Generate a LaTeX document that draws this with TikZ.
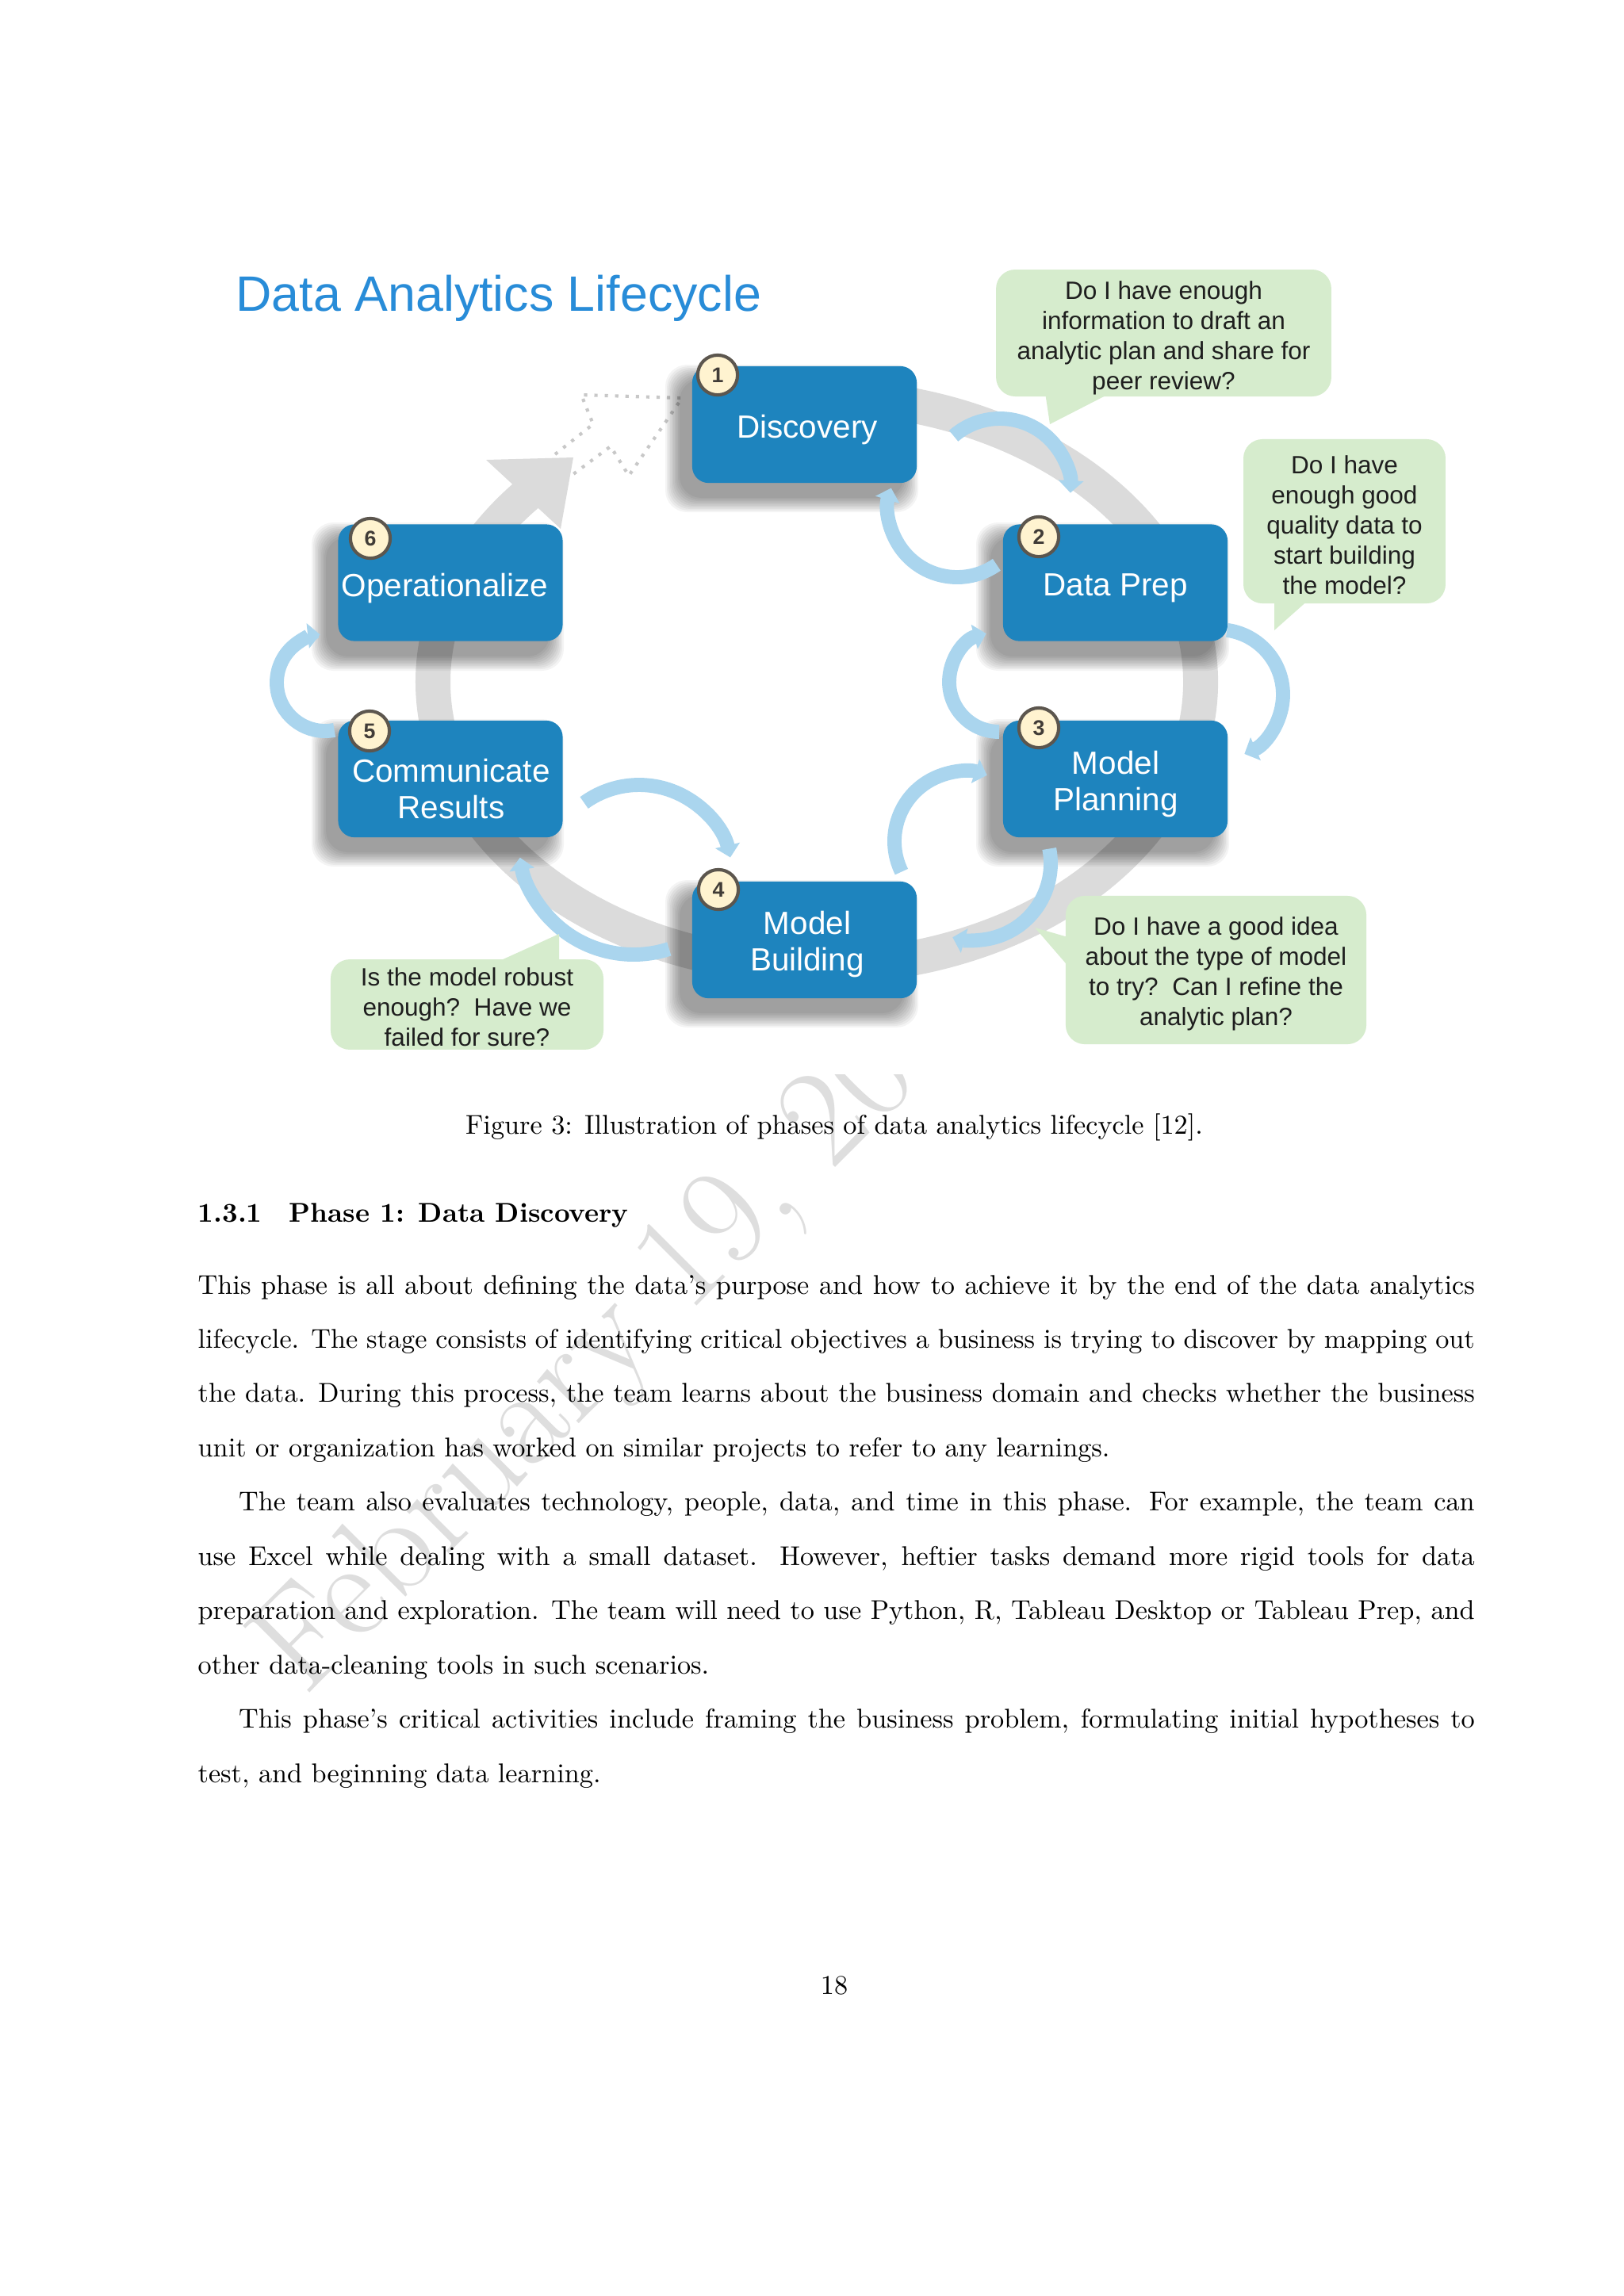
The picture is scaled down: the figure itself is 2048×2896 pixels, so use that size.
\documentclass[tikz,border=0pt]{standalone}
\usepackage{fontspec}
\newfontfamily\arialfont{Liberation Sans}
\usetikzlibrary{arrows.meta}
\definecolor{boxblue}{RGB}{30,132,190}
\definecolor{titleblue}{RGB}{40,140,216}
\definecolor{ringgray}{RGB}{219,219,219}
\definecolor{dotgray}{RGB}{200,200,200}
\definecolor{arcblue}{RGB}{170,213,238}
\definecolor{callgreen}{RGB}{214,236,205}
\definecolor{badgefill}{RGB}{255,243,208}
\definecolor{badgedraw}{RGB}{92,86,78}
\definecolor{calltext}{RGB}{30,30,30}
\definecolor{wmgray}{RGB}{222,222,222}
\newcommand\softshadow[4]{%
  \foreach \k in {0,...,9}{%
    \fill[black, opacity=0.045, rounded corners=8bp]
      ({#1-16-2*\k},{#2+16-2*\k}) rectangle ({#3-16+2*\k},{#4+19+2*\k});
  }}
\tikzset{
  phase/.style={fill=boxblue, rounded corners=6bp, minimum width=82.3bp,
    minimum height=42.8bp, inner sep=0pt},
  phasetext/.style={text=white, align=center, inner sep=0pt,
    font=\arialfont\fontsize{11.8}{13.6}\selectfont},
  badge/.style={circle, fill=badgefill, draw=badgedraw, line width=1.2bp,
    minimum size=14.6bp, inner sep=0pt,
    font=\arialfont\bfseries\fontsize{7.8}{8}\selectfont, text=badgedraw!70!black},
  callout/.style={fill=callgreen, rounded corners=7bp, align=center, inner sep=0pt,
    text=calltext, font=\arialfont\fontsize{9.2}{11.1}\selectfont},
  cyclearc/.style={draw=arcblue, line width=5.2bp, -{Triangle[length=4.5bp,width=9bp]}},
  ringband/.style={draw=ringgray, line width=12.8bp},
  ghost/.style={draw=dotgray, line width=1.2bp, dash pattern=on 1.2bp off 2.6bp},
  bodyline/.style={anchor=base west, inner sep=0pt, font=\fontsize{10}{12}\selectfont},
}
\begin{document}
\begin{tikzpicture}[x=0.290664bp,y=-0.290664bp]
\useasboundingbox (0,0) rectangle (2048,2896);
\fill[white] (0,0) rectangle (2048,2896);

% watermark
\node[rotate=45, anchor=base west, inner sep=0pt, text=wmgray,
      font=\fontsize{51}{51}\selectfont] (wm) at (384,2142) {February 19, 20};

% figure area (image background)
\fill[white] (260,300) rectangle (1840,1355);

% grey cycle band
\coordinate (rs) at ([shift={(1030,860)}]-100:484 and 360);
\draw[ringband] (rs) arc[start angle=-100, end angle=223, x radius=484, y radius=360];
\fill[ringgray] (613,580) -- (723,577) -- (707,667) -- cycle;
\draw[ghost] (700,573) -- (748,535) -- (733,498) -- (860,502) -- (793,600) -- (770,563) -- (723,598);

% shadows
\softshadow{873}{462}{1156}{609}
\softshadow{1265}{661}{1548}{809}
\softshadow{1265}{909}{1548}{1056}
\softshadow{873}{1112}{1156}{1259}
\softshadow{427}{909}{709}{1056}
\softshadow{427}{661}{709}{809}

% light blue cycle arrows
\coordinate (aA) at ([shift={(1261,617)}]-131:89);
\draw[cyclearc] (aA) arc[start angle=-131, end angle=3, radius=89];
\coordinate (aB) at ([shift={(1207,641)}]55:87);
\draw[cyclearc] (aB) arc[start angle=55, end angle=197, radius=87];
\coordinate (aC) at ([shift={(1536,876)}]-82:82);
\draw[cyclearc] (aC) arc[start angle=-82, end angle=66, radius=82];
\coordinate (aD) at ([shift={(1260,860)}]90:63);
\draw[cyclearc] (aD) arc[start angle=90, end angle=255, radius=63];
\coordinate (aE) at ([shift={(1228,1089)}]-11:97);
\draw[cyclearc] (aE) arc[start angle=-11, end angle=106, radius=97];
\coordinate (aF) at ([shift={(1216,1061)}]154:88);
\draw[cyclearc] (aF) arc[start angle=154, end angle=289, radius=88];
\coordinate (aG) at ([shift={(806,1108)}]-126:118);
\draw[cyclearc] (aG) arc[start angle=-126, end angle=-13, radius=118];
\coordinate (aH) at ([shift={(799,1059)}]72:145);
\draw[cyclearc] (aH) arc[start angle=72, end angle=171, radius=145];
\coordinate (aI) at ([shift={(410,861)}]79:61);
\draw[cyclearc] (aI) arc[start angle=79, end angle=264, radius=61];

% phase boxes
\node[phase] (disc) at (1014.5,535.5) {};
\node[phase] (prep) at (1406.5,735) {};
\node[phase] (plan) at (1406.5,982.5) {};
\node[phase] (build) at (1014.5,1185.5) {};
\node[phase] (comm) at (568,982.5) {};
\node[phase] (oper) at (568,735) {};
\node[phasetext] (disct) at (1018,542) {Discovery};
\node[phasetext] (prept) at (1406.5,742) {Data Prep};
\node[phasetext] (plant) at (1407,989) {Model\\Planning};
\node[phasetext] (buildt) at (1018,1191) {Model\\Building};
\node[phasetext] (commt) at (569,995) {Communicate\\Results};
\node[phasetext] (opert) at (561,742) {Operationalize};

% badges
\node[badge] (b1) at (905,473) {1};
\node[badge] (b2) at (1310,677) {2};
\node[badge] (b3) at (1310,918) {3};
\node[badge] (b4) at (906,1122) {4};
\node[badge] (b5) at (466,922) {5};
\node[badge] (b6) at (467,679) {6};

% callouts
\fill[callgreen] (1318,495) -- (1402,495) -- (1324,535) -- cycle;
\node[callout, minimum width=122.9bp, minimum height=46.5bp] (c1) at (1467.5,420) {};
\node[callout] (c1t) at (1467.5,426)
  {Do I have enough\\information to draft an\\analytic plan and share for\\peer review?};
\fill[callgreen] (1607,755) -- (1652,755) -- (1607,795) -- cycle;
\node[callout, minimum width=74.1bp, minimum height=60.2bp] (c2) at (1695.5,657.5) {};
\node[callout] (c2t) at (1695.5,662)
  {Do I have\\enough good\\quality data to\\start building\\the model?};
\fill[callgreen] (1350,1183) -- (1350,1222) -- (1305,1170) -- cycle;
\node[callout, minimum width=110.2bp, minimum height=54.4bp] (c3) at (1533.5,1223.5) {};
\node[callout] (c3t) at (1533.5,1228)
  {Do I have a good idea\\about the type of model\\to try?\ \ Can I refine the\\analytic plan?};
\fill[callgreen] (621,1216) -- (705,1216) -- (705,1178) -- cycle;
\node[callout, minimum width=100bp, minimum height=33.1bp] (c4) at (589,1267) {};
\node[callout] (c4t) at (589,1270)
  {Is the model robust\\enough?\ \ Have we\\failed for sure?};

% title
\node[anchor=base west, inner sep=0pt, text=titleblue,
      font=\arialfont\fontsize{18.3}{20}\selectfont] (title) at (297,392) {Data Analytics Lifecycle};

% caption, heading, body
\node[anchor=base, inner sep=0pt, font=\fontsize{10}{12}\selectfont] (cap) at (1052,1430)
  {Figure 3: Illustration of phases of data analytics lifecycle [12].};
\node[anchor=base west, inner sep=0pt, font=\fontsize{10}{12}\selectfont\bfseries] (head) at (249,1541)
  {1.3.1\quad Phase 1: Data Discovery};
\node[bodyline] (l1) at (249,1632) {\makebox[6.5in][s]{This phase is all about defining the data's purpose and how to achieve it by the end of the data analytics}};
\node[bodyline] (l2) at (249,1700.5) {\makebox[6.5in][s]{lifecycle. The stage consists of identifying critical objectives a business is trying to discover by mapping out}};
\node[bodyline] (l3) at (249,1768.9) {\makebox[6.5in][s]{the data. During this process, the team learns about the business domain and checks whether the business}};
\node[bodyline] (l4) at (249,1837.4) {unit or organization has worked on similar projects to refer to any learnings.};
\node[bodyline] (l5) at (249,1905.8) {\makebox[6.5in][s]{\hspace*{15pt}The team also evaluates technology, people, data, and time in this phase. For example, the team can}};
\node[bodyline] (l6) at (249,1974.3) {\makebox[6.5in][s]{use Excel while dealing with a small dataset. However, heftier tasks demand more rigid tools for data}};
\node[bodyline] (l7) at (249,2042.8) {\makebox[6.5in][s]{preparation and exploration. The team will need to use Python, R, Tableau Desktop or Tableau Prep, and}};
\node[bodyline] (l8) at (249,2111.2) {other data-cleaning tools in such scenarios.};
\node[bodyline] (l9) at (249,2179.7) {\makebox[6.5in][s]{\hspace*{15pt}This phase's critical activities include framing the business problem, formulating initial hypotheses to}};
\node[bodyline] (l10) at (249,2248.1) {test, and beginning data learning.};

\node[anchor=base, inner sep=0pt, font=\fontsize{10}{12}\selectfont] (pg) at (1052,2515) {18};
\end{tikzpicture}
\end{document}
